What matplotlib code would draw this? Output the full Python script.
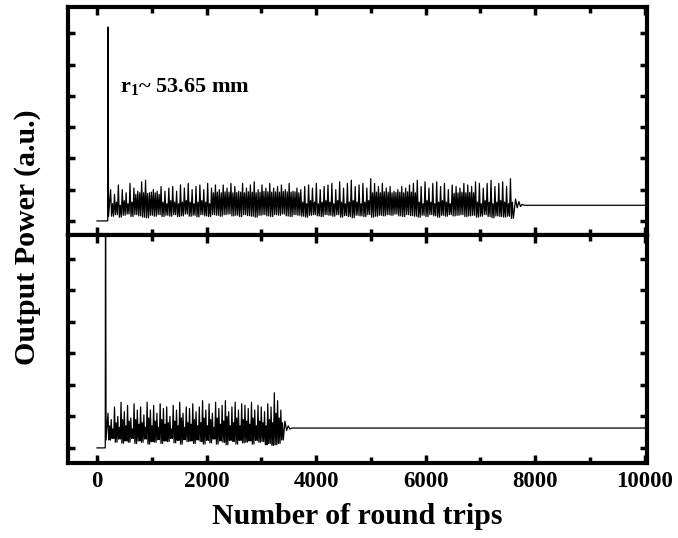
import numpy as np
import matplotlib
matplotlib.use("Agg")
import matplotlib.pyplot as plt
from matplotlib.ticker import MultipleLocator

plt.rcParams["font.family"] = ["Liberation Serif", "DejaVu Serif"]
plt.rcParams["font.weight"] = "bold"
plt.rcParams["mathtext.fontset"] = "custom"
plt.rcParams["mathtext.rm"] = "Liberation Serif:bold"
plt.rcParams["mathtext.bf"] = "Liberation Serif:bold"

# ---- data (arbitrary power units; 1 unit = one y tick) ----
# top panel, r1 ~ 53.65 mm
top_spike_x = 200
top_spike_y = 6.2
top_osc_start, top_osc_end = 230, 7600
top_peaks = [
    1.00, 0.85, 1.15, 1.00, 0.90, 1.20, 1.05, 0.95, 1.25, 1.30, 0.90, 1.00, 0.95, 1.10,
    0.95, 1.05, 1.10, 0.95, 1.15, 1.05, 1.20, 1.00, 1.10, 1.15, 1.00, 1.20, 1.05, 1.15,
    1.00, 1.15, 1.05, 1.20, 1.10, 0.95, 1.20, 1.05, 1.15, 1.25, 1.00, 1.15, 1.05, 1.20,
    1.05, 1.10, 1.15, 1.00, 1.20, 0.95, 1.05, 1.00, 1.10, 1.15, 1.05, 1.20, 1.00, 1.10,
    1.15, 1.20, 1.00, 1.25, 1.05, 1.20, 1.30, 1.10, 1.15, 1.20, 1.05, 1.35, 1.20, 1.10,
    1.20, 1.05, 1.10, 0.95, 1.00, 1.10, 1.05, 1.15, 1.20, 1.30, 1.10, 1.25, 1.05, 1.20,
    1.25, 1.10, 1.20, 1.00, 1.15, 1.10, 1.05, 1.20, 1.15, 1.10, 1.25, 1.20, 1.05, 1.20,
    1.30, 1.10, 1.20, 1.25, 1.10, 1.35,
]
top_mids = [
    0.55, 0.60, 0.50, 0.65, 0.55, 0.60, 0.85, 0.90, 0.90, 0.88, 0.92, 0.90, 0.85, 0.60,
    0.55, 0.65, 0.60, 0.55, 0.60, 0.65, 0.60, 0.55, 0.60, 0.65, 0.60, 0.55, 0.90, 0.92,
    0.90, 0.93, 0.92, 0.90, 0.91, 0.92, 0.90, 0.93, 0.92, 0.90, 0.92, 0.94, 0.93, 0.92,
    0.93, 0.92, 0.94, 0.93, 0.92, 0.93, 0.90, 0.60, 0.55, 0.65, 0.60, 0.55, 0.60, 0.65,
    0.60, 0.55, 0.65, 0.60, 0.55, 0.60, 0.65, 0.60, 0.55, 0.60, 0.65, 0.90, 0.92, 0.90,
    0.93, 0.92, 0.90, 0.91, 0.92, 0.90, 0.93, 0.92, 0.90, 0.60, 0.55, 0.65, 0.60, 0.55,
    0.60, 0.65, 0.60, 0.55, 0.88, 0.90, 0.92, 0.90, 0.91, 0.90, 0.60, 0.55, 0.65, 0.60,
    0.55, 0.60, 0.65, 0.60, 0.55, 0.60,
]
top_troughs = [
    0.15, 0.20, 0.12, 0.18, 0.22, 0.14, 0.20, 0.16, 0.12, 0.10, 0.18, 0.15, 0.20, 0.14,
    0.18, 0.15, 0.20, 0.14, 0.16, 0.22, 0.15, 0.18, 0.13, 0.20, 0.16, 0.14, 0.20, 0.18,
    0.15, 0.20, 0.22, 0.16, 0.18, 0.14, 0.20, 0.17, 0.15, 0.12, 0.18, 0.20, 0.16, 0.14,
    0.20, 0.18, 0.22, 0.16, 0.14, 0.20, 0.18, 0.15, 0.12, 0.18, 0.20, 0.16, 0.14, 0.20,
    0.18, 0.15, 0.20, 0.12, 0.17, 0.14, 0.10, 0.18, 0.16, 0.14, 0.20, 0.12, 0.15, 0.18,
    0.16, 0.20, 0.18, 0.22, 0.16, 0.14, 0.20, 0.17, 0.15, 0.12, 0.18, 0.14, 0.20, 0.16,
    0.12, 0.18, 0.15, 0.20, 0.16, 0.18, 0.20, 0.14, 0.16, 0.18, 0.12, 0.15, 0.20, 0.14,
    0.10, 0.16, 0.14, 0.12, 0.15, 0.08,
]
top_ring_x = [7640, 7670, 7700, 7730, 7760, 7800]
top_ring_y = [0.70, 0.42, 0.62, 0.46, 0.53, 0.50]
top_final = 0.50

# bottom panel
bot_spike_x = 155
bot_spike_y = 9.0
bot_osc_start, bot_osc_end = 185, 3400
bot_peaks = [
    1.10, 0.90, 1.30, 1.00, 1.45, 1.15, 1.35, 0.95, 1.40, 1.20, 1.30, 1.05, 1.45, 1.20,
    1.35, 1.10, 1.40, 1.25, 1.30, 1.00, 1.35, 1.20, 1.45, 1.10, 1.30, 1.25, 1.40, 1.15,
    1.30, 1.50, 1.20, 1.40, 1.10, 1.45, 1.25, 1.35, 1.50, 1.15, 1.30, 1.45, 1.20, 1.40,
    1.35, 1.25, 1.45, 1.20, 1.35, 1.30, 1.15, 1.40, 1.30, 1.75, 1.50, 1.20,
]
bot_mids = [
    0.70, 0.60, 0.80, 0.65, 0.90, 0.70, 0.85, 0.60, 0.90, 0.75, 0.80, 0.65, 0.95, 0.70,
    0.85, 0.65, 0.90, 0.75, 0.80, 0.60, 0.85, 0.70, 0.95, 0.65, 0.80, 0.75, 0.90, 0.70,
    0.80, 0.95, 0.70, 0.90, 0.65, 0.95, 0.75, 0.85, 1.00, 0.70, 0.80, 0.95, 0.70, 0.90,
    0.85, 0.75, 0.95, 0.70, 0.85, 0.80, 0.70, 0.90, 0.80, 1.10, 0.95, 0.80,
]
bot_troughs = [
    0.25, 0.30, 0.18, 0.28, 0.15, 0.22, 0.18, 0.30, 0.14, 0.22, 0.18, 0.28, 0.12, 0.20,
    0.18, 0.26, 0.14, 0.22, 0.20, 0.30, 0.16, 0.24, 0.12, 0.26, 0.20, 0.22, 0.14, 0.25,
    0.20, 0.12, 0.24, 0.16, 0.28, 0.12, 0.22, 0.18, 0.10, 0.24, 0.20, 0.12, 0.24, 0.16,
    0.18, 0.22, 0.12, 0.24, 0.18, 0.20, 0.10, 0.14, 0.08, 0.10, 0.14, 0.25,
]
bot_ring_x = [3430, 3460, 3490, 3520, 3560]
bot_ring_y = [0.85, 0.55, 0.70, 0.60, 0.63]
bot_final = 0.63

x_end = 10000
annotation = r"r$_{\mathbf{1}}$~ 53.65 mm"


def build_trace(spike_x, spike_y, osc_start, osc_end, peaks, mids, troughs,
                ring_x, ring_y, final):
    n = len(peaks)
    cyc = np.linspace(osc_start, osc_end, n + 1)
    xs = [0, spike_x - 5, spike_x, spike_x + 10]
    ys = [0, 0, spike_y, troughs[0]]
    for i in range(n):
        c0, c1 = cyc[i], cyc[i + 1]
        step = (c1 - c0) / 4
        xs += [c0 + step, c0 + 2 * step, c0 + 3 * step, c1]
        ys += [peaks[i], troughs[i], mids[i], troughs[i]]
    xs += list(ring_x) + [x_end]
    ys += list(ring_y) + [final]
    return np.array(xs), np.array(ys)


fig = plt.figure(figsize=(6.78, 5.38), dpi=100)
ax_top = fig.add_axes([0.1003, 0.5632, 0.854, 0.4238])
ax_bot = fig.add_axes([0.1003, 0.1394, 0.854, 0.4238], sharex=ax_top)

x1, y1 = build_trace(top_spike_x, top_spike_y, top_osc_start, top_osc_end,
                     top_peaks, top_mids, top_troughs, top_ring_x, top_ring_y, top_final)
x2, y2 = build_trace(bot_spike_x, bot_spike_y, bot_osc_start, bot_osc_end,
                     bot_peaks, bot_mids, bot_troughs, bot_ring_x, bot_ring_y, bot_final)

ax_top.plot(x1, y1, color="black", lw=0.9)
ax_bot.plot(x2, y2, color="black", lw=0.9)

ax_top.set_ylim(-0.45, 6.84)
ax_bot.set_ylim(-0.48, 6.76)
ax_top.set_xlim(-530, 10040)

for ax in (ax_top, ax_bot):
    ax.xaxis.set_major_locator(MultipleLocator(2000))
    ax.xaxis.set_minor_locator(MultipleLocator(1000))
    ax.yaxis.set_major_locator(MultipleLocator(1))
    ax.set_yticklabels([])
    ax.tick_params(which="major", direction="in", width=2.5, length=6,
                   top=True, right=True)
    ax.tick_params(which="minor", direction="in", width=2.5, length=4,
                   top=True, right=True)
    ax.tick_params(axis="y", which="major", length=5)
    for sp in ax.spines.values():
        sp.set_linewidth(3)

ax_top.tick_params(labelbottom=False)
ax_bot.tick_params(axis="x", labelsize=16.5, pad=6)
for lab in ax_bot.get_xticklabels():
    lab.set_fontweight("bold")

ax_bot.set_xlabel("Number of round trips", fontsize=21.5, fontweight="bold", labelpad=8)
fig.text(0.040, 0.5585, "Output Power (a.u.)", rotation=90, fontsize=21.5,
         fontweight="bold", ha="center", va="center")

ax_top.text(420, 4.12, annotation, fontsize=16, fontweight="bold")

fig.savefig("out.png", dpi=100)
